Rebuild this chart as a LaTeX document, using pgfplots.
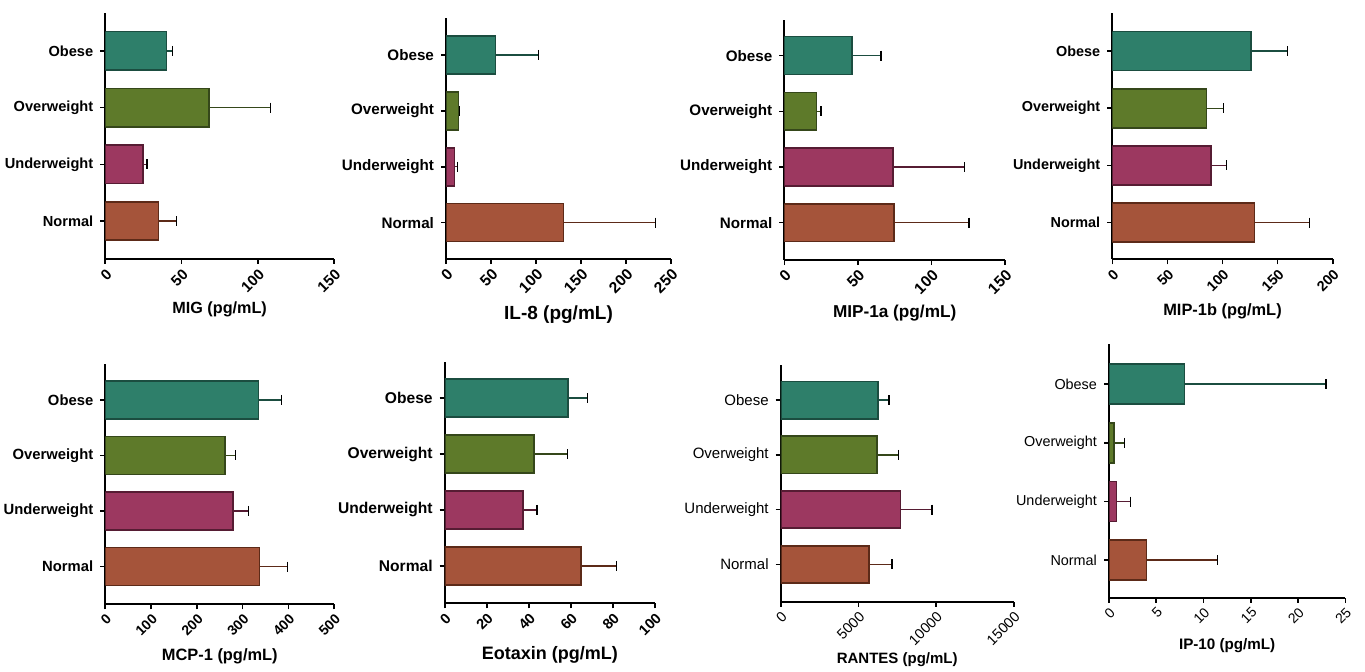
\documentclass[border=0pt]{standalone}
\usepackage{pgfplots}
\pgfplotsset{compat=1.18}
\usepackage{fontspec}
\setmainfont{Liberation Sans}
\definecolor{cO}{HTML}{2E7F6A}
\definecolor{cOd}{HTML}{1B4D40}
\definecolor{cV}{HTML}{5E7A2A}
\definecolor{cVd}{HTML}{35471A}
\definecolor{cU}{HTML}{9C3860}
\definecolor{cUd}{HTML}{561C33}
\definecolor{cN}{HTML}{A5543A}
\definecolor{cNd}{HTML}{5C2A18}
\pgfplotsset{
  barbase/.style={xbar, bar shift=0pt, bar width=0.68, line width=0.8pt,
    error bars/x dir=plus, error bars/x explicit, error bars/error mark=|,
    error bars/error bar style={line width=0.7pt},
    error bars/error mark options={line width=0.7pt, mark size=2.5pt}},
  barN/.style={barbase, fill=cN, draw=cNd},
  barU/.style={barbase, fill=cU, draw=cUd},
  barV/.style={barbase, fill=cV, draw=cVd},
  barO/.style={barbase, fill=cO, draw=cOd},
  panel/.style={scale only axis, anchor=south west, xmin=0,
    axis x line*=bottom, axis y line*=left, axis line style={-, line width=1pt},
    tick align=outside, major tick length=2.5pt, tick style={line width=0.8pt, black},
    ytick={0,1,2,3}, yticklabels={Normal,Underweight,Overweight,Obese},
    /pgf/number format/assume math mode=true, /pgf/number format/1000 sep={},
    scaled ticks=false, enlargelimits=false,
    xticklabel style={rotate=45, anchor=north east, inner sep=1.2pt},
    xlabel style={at={(axis description cs:0.5,0)}, anchor=center},
  },
}
\newcommand{\bars}[8]{%
  \addplot[barN] coordinates {(#1,0) +- (#2,0)};
  \addplot[barU] coordinates {(#3,1) +- (#4,0)};
  \addplot[barV] coordinates {(#5,2) +- (#6,0)};
  \addplot[barO] coordinates {(#7,3) +- (#8,0)};
}
\newcommand{\fs}[1]{\fontsize{#1}{#1}\selectfont}
\begin{document}
\begin{tikzpicture}
\useasboundingbox (0,0) rectangle (682.5pt,335.5pt);
% MIG
\begin{axis}[panel, at={(52.65pt,206pt)}, width=114.35pt, height=123pt,
  xmax=150, xtick={0,50,100,150}, ymin=-0.67, ymax=3.67,
  yticklabel style={font=\bfseries\fs{7.3pt}}, xticklabel style={font=\bfseries\fs{7.5pt}},
  xlabel={MIG (pg/mL)}, xlabel style={font=\bfseries\fs{8.1pt}, yshift=-25.2pt}]
\bars{35}{11.6}{24.9}{2.4}{68.2}{40.2}{40.2}{4.0}
\end{axis}
% IL-8
\begin{axis}[panel, at={(223pt,206pt)}, width=112.5pt, height=120.5pt,
  xmax=250, xtick={0,50,100,150,200,250}, ymin=-0.65, ymax=3.66,
  yticklabel style={font=\bfseries\fs{7.6pt}}, xticklabel style={font=\bfseries\fs{7.8pt}},
  xlabel={IL-8 (pg/mL)}, xlabel style={font=\bfseries\fs{9.5pt}, yshift=-28pt}]
\bars{130.4}{102.6}{9.3}{3.3}{14}{1.3}{55.2}{47.8}
\end{axis}
% MIP-1a
\begin{axis}[panel, at={(392.15pt,205.5pt)}, width=110.35pt, height=120pt,
  xmax=150, xtick={0,50,100,150}, ymin=-0.67, ymax=3.64,
  yticklabel style={font=\bfseries\fs{7.6pt}}, xticklabel style={font=\bfseries\fs{7.8pt}},
  xlabel={MIP-1a (pg/mL)}, xlabel style={font=\bfseries\fs{8.6pt}, yshift=-26.7pt}]
\bars{74.4}{51}{73.7}{48.7}{21.8}{3.1}{46}{19.7}
\end{axis}
% MIP-1b
\begin{axis}[panel, at={(556.15pt,205.85pt)}, width=110.2pt, height=123pt,
  xmax=200, xtick={0,50,100,150,200}, ymin=-0.64, ymax=3.66,
  yticklabel style={font=\bfseries\fs{7.2pt}}, xticklabel style={font=\bfseries\fs{7.2pt}},
  xlabel={MIP-1b (pg/mL)}, xlabel style={font=\bfseries\fs{8.2pt}, yshift=-26.2pt}]
\bars{129.2}{50}{89.3}{14.5}{85.3}{15.8}{125.9}{33.3}
\end{axis}
% MCP-1
\begin{axis}[panel, at={(52.65pt,33.35pt)}, width=114.5pt, height=120pt,
  xmax=500, xtick={0,100,200,300,400,500}, ymin=-0.68, ymax=3.64,
  yticklabel style={font=\bfseries\fs{7.4pt}}, xticklabel style={font=\bfseries\fs{7pt}},
  xlabel={MCP-1 (pg/mL)}, xlabel style={font=\bfseries\fs{8.2pt}, yshift=-26.2pt}]
\bars{337}{60.4}{278.8}{33.4}{261.3}{23.3}{334.8}{49.5}
\end{axis}
% Eotaxin
\begin{axis}[panel, at={(222.35pt,33.85pt)}, width=105.15pt, height=120.5pt,
  xmax=100, xtick={0,20,40,60,80,100}, ymin=-0.67, ymax=3.64,
  yticklabel style={font=\bfseries\fs{7.8pt}}, xticklabel style={font=\bfseries\fs{7.3pt}},
  xlabel={Eotaxin (pg/mL)}, xlabel style={font=\bfseries\fs{9pt}, yshift=-25.8pt},
  every axis plot/.append style={error bars/error bar style={line width=1.1pt}, error bars/error mark options={line width=1.1pt, mark size=2.6pt}}]
\bars{64.8}{16.8}{37.1}{6.8}{42.5}{15.8}{58.5}{9.3}
\end{axis}
% RANTES
\begin{axis}[panel, at={(390.35pt,34.65pt)}, width=116.5pt, height=118.35pt,
  xmax=15000, xtick={0,5000,10000,15000}, ymin=-0.68, ymax=3.64,
  yticklabel style={font=\fs{7.5pt}}, xticklabel style={font=\fs{7.2pt}},
  xlabel={RANTES (pg/mL)}, xlabel style={font=\bfseries\fs{7.5pt}, yshift=-29.2pt}]
\bars{5665}{1502}{7704}{2038}{6180}{1395}{6266}{708}
\end{axis}
% IP-10
\begin{axis}[panel, at={(554.5pt,36.65pt)}, width=118.15pt, height=126.7pt,
  xmax=25, xtick={0,5,10,15,20,25}, ymin=-0.64, ymax=3.68,
  yticklabel style={font=\fs{7.2pt}}, xticklabel style={font=\fs{7pt}},
  xlabel={IP-10 (pg/mL)}, xlabel style={font=\bfseries\fs{7.6pt}, yshift=-23.7pt}]
\bars{3.98}{7.48}{0.78}{1.51}{0.53}{1.09}{8.0}{14.95}
\end{axis}
\end{tikzpicture}
\end{document}
